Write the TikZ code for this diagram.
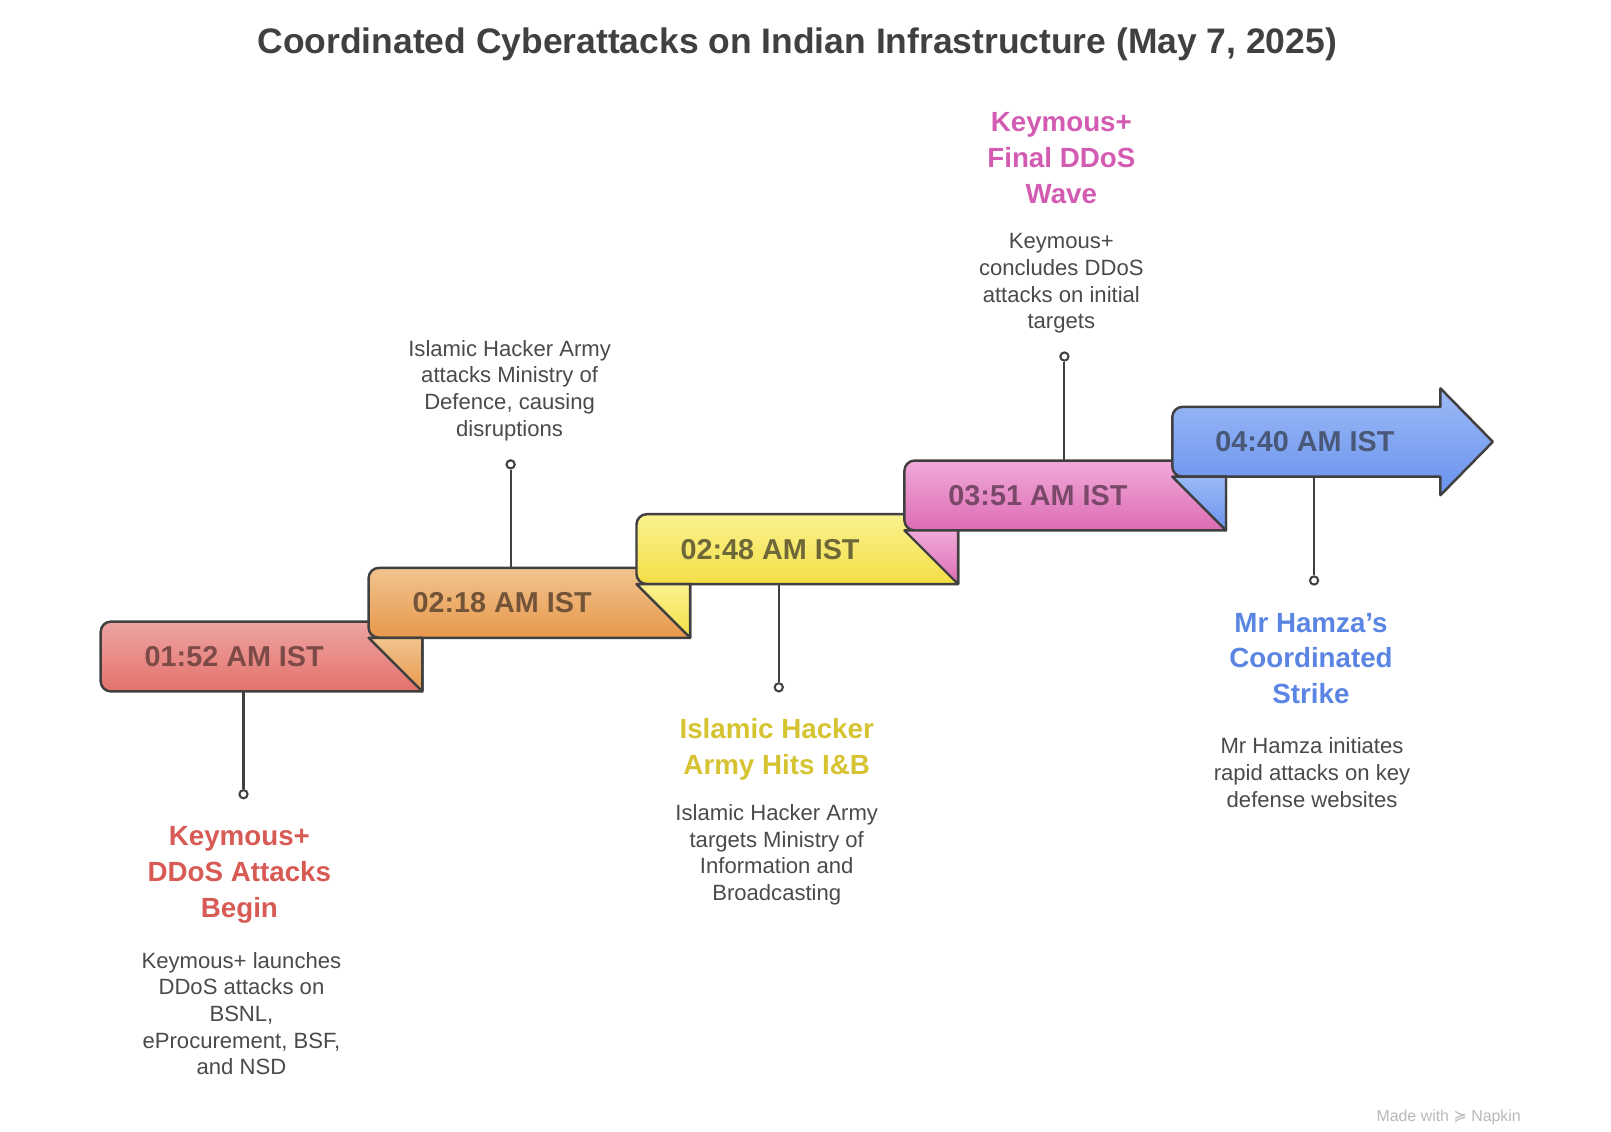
\documentclass[tikz,border=0pt]{standalone}
\usepackage{fontspec}
\setmainfont{Liberation Sans}
\newfontfamily\symfont{DejaVu Sans}
\usepackage{tikz}
\usetikzlibrary{positioning}

\definecolor{inkgray}{HTML}{404040}
\definecolor{descgray}{HTML}{4A4A4A}
\definecolor{redtop}{HTML}{EDA4A2}
\definecolor{redbot}{HTML}{E4726C}
\definecolor{orangetop}{HTML}{F1C48E}
\definecolor{orangebot}{HTML}{E8984C}
\definecolor{yellowtop}{HTML}{FAF290}
\definecolor{yellowbot}{HTML}{F4DE46}
\definecolor{pinktop}{HTML}{F0AAD8}
\definecolor{pinkbot}{HTML}{DD6CB4}
\definecolor{bluetop}{HTML}{9ABAF6}
\definecolor{bluebot}{HTML}{6A92EE}
\definecolor{redtxt}{HTML}{7C4A47}
\definecolor{orangetxt}{HTML}{735438}
\definecolor{yellowtxt}{HTML}{6E6838}
\definecolor{pinktxt}{HTML}{7A4868}
\definecolor{bluetxt}{HTML}{4A5878}
\definecolor{redhead}{HTML}{D85A55}
\definecolor{yellowhead}{HTML}{D6C332}
\definecolor{pinkhead}{HTML}{D35CB2}
\definecolor{bluehead}{HTML}{5A85E2}

\tikzset{
  band/.style={draw=inkgray, line width=2.4pt, line join=round},
  bandtext/.style={font=\fontsize{28}{30}\selectfont\bfseries, inner sep=0pt},
  evttitle/.style={font=\fontsize{27}{35}\selectfont\bfseries, align=center, inner sep=0pt},
  evtdesc/.style={font=\fontsize{21.5}{26}\selectfont, align=center, text=descgray, inner sep=0pt},
  stem/.style={draw=inkgray, line width=2pt},
  pin/.style={circle, draw=inkgray, fill=white, line width=2pt, minimum size=8pt, inner sep=0pt}
}

\begin{document}
\begin{tikzpicture}[x=1pt, y=1pt]
\useasboundingbox (0,0) rectangle (1568,1101);
\coordinate (s1) at (237,428);
\coordinate (s2) at (497,548.25);
\coordinate (s3) at (758,532.5);
\coordinate (s4) at (1036,652.75);
\coordinate (s5) at (1279,637);
% title
\node[font=\fontsize{34.5}{40}\selectfont\bfseries, text=inkgray] (title) at (776,1058) {Coordinated Cyberattacks on Indian Infrastructure (May 7, 2025)};
% draws stems and pins
\node[pin] (c1) at (237,328) {};
\node[pin] (c2) at (497,649) {};
\node[pin] (c3) at (758,432) {};
\node[pin] (c4) at (1036,754) {};
\node[pin] (c5) at (1279,536) {};
\draw[stem] (s1) -- (c1);
\draw[stem] (s2) -- (c2);
\draw[stem] (s3) -- (c3);
\draw[stem] (s4) -- (c4);
\draw[stem] (s5) -- (c5);
% draws bands
\draw[band, top color=redtop, bottom color=redbot] (411,428) -- (411,496) -- (108,496) arc[start angle=90, end angle=180, radius=10pt] -- (98,438) arc[start angle=180, end angle=270, radius=10pt] -- cycle;
\draw[band, top color=orangetop, bottom color=orangebot] (671.75,480.25) -- (671.75,548.25) -- (368.75,548.25) arc[start angle=90, end angle=180, radius=10pt] -- (358.75,490.25) arc[start angle=180, end angle=270, radius=10pt] -- cycle;
\draw[band, top color=orangetop, bottom color=orangebot] (358.75,480.25) -- (411,480.25) -- (411,428) -- cycle;
\draw[band, top color=yellowtop, bottom color=yellowbot] (932.5,532.5) -- (932.5,600.5) -- (629.5,600.5) arc[start angle=90, end angle=180, radius=10pt] -- (619.5,542.5) arc[start angle=180, end angle=270, radius=10pt] -- cycle;
\draw[band, top color=yellowtop, bottom color=yellowbot] (619.5,532.5) -- (671.75,532.5) -- (671.75,480.25) -- cycle;
\draw[band, top color=pinktop, bottom color=pinkbot] (1193.25,584.75) -- (1193.25,652.75) -- (890.25,652.75) arc[start angle=90, end angle=180, radius=10pt] -- (880.25,594.75) arc[start angle=180, end angle=270, radius=10pt] -- cycle;
\draw[band, top color=pinktop, bottom color=pinkbot] (880.25,584.75) -- (932.5,584.75) -- (932.5,532.5) -- cycle;
\draw[band, top color=bluetop, bottom color=bluebot] (1402,637) -- (1402,619) -- (1453,671) -- (1402,723) -- (1402,705) -- (1151,705) arc[start angle=90, end angle=180, radius=10pt] -- (1141,647) arc[start angle=180, end angle=270, radius=10pt] -- cycle;
\draw[band, top color=bluetop, bottom color=bluebot] (1141,637) -- (1193.25,637) -- (1193.25,584.75) -- cycle;
% labels bands
\node[bandtext, text=redtxt] (b1) at (228,462) {01:52 AM IST};
\node[bandtext, text=orangetxt] (b2) at (488.75,514.25) {02:18 AM IST};
\node[bandtext, text=yellowtxt] (b3) at (749.5,566.5) {02:48 AM IST};
\node[bandtext, text=pinktxt] (b4) at (1010.25,618.75) {03:51 AM IST};
\node[bandtext, text=bluetxt] (b5) at (1270,671) {04:40 AM IST};
% labels events
\node[evttitle, text=redhead] (t1) at (233,249.5) {Keymous+\\DDoS Attacks\\Begin};
\node[evtdesc] (d1) at (235,114.5) {Keymous+ launches\\DDoS attacks on\\BSNL,\\eProcurement, BSF,\\and NSD};
\node[evtdesc] (d2) at (496,721) {Islamic Hacker Army\\attacks Ministry of\\Defence, causing\\disruptions};
\node[evttitle, text=yellowhead] (t3) at (756,372) {Islamic Hacker\\Army Hits I\&B};
\node[evtdesc] (d3) at (756,269) {Islamic Hacker Army\\targets Ministry of\\Information and\\Broadcasting};
\node[evttitle, text=pinkhead] (t4) at (1033,947) {Keymous+\\Final DDoS\\Wave};
\node[evtdesc] (d4) at (1033,825) {Keymous+\\concludes DDoS\\attacks on initial\\targets};
\node[evttitle, text=bluehead] (t5) at (1276,460) {Mr Hamza's\\Coordinated\\Strike};
\node[evtdesc] (d5) at (1277,349) {Mr Hamza initiates\\rapid attacks on key\\defense websites};
% watermark
\node[font=\fontsize{15.5}{18}\selectfont, text=black!28] (mark) at (1410,13) {Made with {\symfont ≽} Napkin};
\end{tikzpicture}
\end{document}
